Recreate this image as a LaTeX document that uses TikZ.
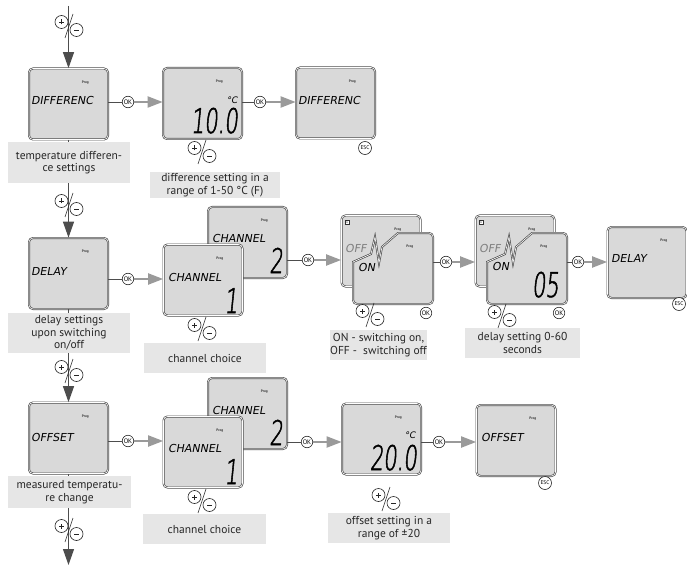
\documentclass[tikz,border=0pt]{standalone}
\usepackage{fontspec}
\usepackage{graphicx}
\setmainfont{PT Sans}
\newfontfamily\lcdfont[FakeSlant=0.18]{DejaVu Sans}
\newfontfamily\lcddigits[FakeSlant=0.1,FakeStretch=0.62,FakeBold=1.5]{DejaVuSans-ExtraLight.ttf}
\usetikzlibrary{arrows.meta}
\definecolor{lcdgray}{HTML}{D9D9D9}
\definecolor{lblgray}{HTML}{E6E6E6}
\definecolor{edge}{HTML}{4D4D4D}
\definecolor{okarrow}{HTML}{9A9A9A}

\begin{document}
\begin{tikzpicture}[
  lcd/.style={draw=edge, line width=0.7pt, double=white, double distance=0.6pt, fill=lcdgray, rounded corners=4pt, minimum width=79pt, minimum height=71pt, inner sep=0pt, label={[prog]north east:Prog}},
  lcdpath/.style={draw=edge, line width=0.7pt, double=white, double distance=0.6pt, fill=lcdgray},
  prog/.style={anchor=center, xshift=-23pt, yshift=-14pt, inner sep=0pt, font=\fontsize{3.5}{4}\selectfont\bfseries, text=black!80},
  word/.style={anchor=west, inner sep=0pt, font=\lcdfont\fontsize{11}{11}\selectfont},
  digits/.style={anchor=base east, inner sep=0pt, font=\lcddigits\fontsize{34}{34}\selectfont},
  unit/.style={inner sep=0pt, font=\lcdfont\fontsize{9}{9}\selectfont},
  mini/.style={draw=black!80, line width=0.4pt, fill=white, minimum size=4.5pt, inner sep=0pt, font=\fontsize{3.5}{3.5}\selectfont},
  okbtn/.style={circle, draw=black!85, fill=white, line width=0.6pt, minimum size=11.5pt, inner sep=0pt, font=\fontsize{6.5}{6.5}\selectfont},
  escbtn/.style={okbtn, minimum size=13pt, font=\fontsize{5.5}{5.5}\selectfont},
  lbl/.style={fill=lblgray, text=black!85, align=center, inner sep=0pt, font=\fontsize{11.5}{12.5}\selectfont},
  flow/.style={draw=edge, line width=1.2pt, -{Triangle[length=16pt,width=11pt]}},
  link/.style={draw=edge, line width=0.7pt},
  okarr/.style={draw=okarrow, line width=2pt, -{Triangle[length=15pt,width=11pt]}},
  pmring/.style={draw=black!85, fill=white, line width=0.6pt},
  pmline/.style={draw=black!85, line width=0.6pt},
  pm/.pic={
    \draw[pmline] (-4pt,-12pt) -- (4pt,12pt);
    \draw[pmring] (-7.5pt,4pt) circle[radius=6.5pt];
    \draw[pmring] (7.5pt,-4pt) circle[radius=6.5pt];
    \draw[pmline] (-10pt,4pt) -- (-5pt,4pt) (-7.5pt,1.5pt) -- (-7.5pt,6.5pt) (5pt,-4pt) -- (10pt,-4pt);
  }]
  \useasboundingbox (0pt,0pt) rectangle (687pt,-569pt);
  % row 1: difference
  \draw (68.5pt, -104.0pt)node[lcd](diff){};
  \draw (202.5pt, -103.5pt)node[lcd](diffval){};
  \draw (335.5pt, -103.0pt)node[lcd](diffend){};
  \draw (31.0pt, -100.0pt)node[word](w1){DIFFERENC};
  \draw (238.0pt, -133.0pt)node[digits](v1){10.0};
  \draw (232.0pt, -100.0pt)node[unit](u1){°C};
  \draw (298.0pt, -100.0pt)node[word](w2){DIFFERENC};
  % row 2: delay
  \draw (68.5pt, -273.5pt)node[lcd](delay){};
  \draw (31.0pt, -271.0pt)node[word](w3){DELAY};
  \draw (247.5pt, -242.5pt)node[lcd](chanB){};
  \draw (212.0pt, -238.0pt)node[word](w4){CHANNEL};
  \draw (283.0pt, -273.0pt)node[digits](v2){2};
  \draw (203.0pt, -280.0pt)node[lcd](chanA){};
  \draw (168.0pt, -277.0pt)node[word](w5){CHANNEL};
  \draw (238.0pt, -313.0pt)node[digits](v3){1};
  \draw (381.0pt, -251.0pt)node[lcd](offA){};
  \draw (347.0pt, -222.0pt)node[mini](one1){1};
  \draw (345.0pt, -248.0pt)node[word, text=black!50](off1){OFF};
  \draw[lcdpath] (353pt,-262pt) -- (371pt,-254pt) -- (375pt,-237pt) -- (379pt,-263pt) -- (382pt,-247pt) -- (398pt,-233pt) [rounded corners=4pt] -- (433pt,-233pt) -- (433pt,-304pt) -- (353pt,-304pt) [sharp corners] -- cycle;
  \draw (393.0pt, -268.5pt)node[lcd, draw=none, fill=none](onB){};
  \draw (358.0pt, -267.0pt)node[word](on1){ON};
  \draw (515.0pt, -251.0pt)node[lcd](dlA){};
  \draw (481.0pt, -222.0pt)node[mini](one2){1};
  \draw (479.0pt, -248.0pt)node[word, text=black!50](off2){OFF};
  \draw[lcdpath] (487pt,-262pt) -- (505pt,-254pt) -- (509pt,-237pt) -- (513pt,-263pt) -- (516pt,-247pt) -- (532pt,-233pt) [rounded corners=4pt] -- (567pt,-233pt) -- (567pt,-304pt) -- (487pt,-304pt) [sharp corners] -- cycle;
  \draw (527.0pt, -268.5pt)node[lcd, draw=none, fill=none](dlB){};
  \draw (492.0pt, -266.0pt)node[word](on2){ON};
  \draw (559.0pt, -297.0pt)node[digits](v4){05};
  \draw (647.0pt, -262.5pt)node[lcd](delayend){};
  \draw (611.0pt, -258.0pt)node[word](w6){DELAY};
  % row 3: offset
  \draw (68.5pt, -438.0pt)node[lcd](offset){};
  \draw (31.0pt, -437.0pt)node[word](w7){OFFSET};
  \draw (247.5pt, -413.5pt)node[lcd](chanB2){};
  \draw (212.0pt, -410.0pt)node[word](w8){CHANNEL};
  \draw (283.0pt, -445.0pt)node[digits](v5){2};
  \draw (203.0pt, -452.0pt)node[lcd](chanA2){};
  \draw (168.0pt, -448.0pt)node[word](w9){CHANNEL};
  \draw (238.0pt, -484.0pt)node[digits](v6){1};
  \draw (381.5pt, -439.0pt)node[lcd](offval){};
  \draw (417.0pt, -470.0pt)node[digits](v7){20.0};
  \draw (410.0pt, -435.0pt)node[unit](u2){°C};
  \draw (516.0pt, -440.5pt)node[lcd](offend){};
  \draw (481.0pt, -437.0pt)node[word](w10){OFFSET};
  % buttons
  \draw (128pt, -102pt)node[okbtn](ok1){OK};
  \draw (260pt, -102pt)node[okbtn](ok2){OK};
  \draw (128pt, -279pt)node[okbtn](ok3){OK};
  \draw (308pt, -260pt)node[okbtn](ok4){OK};
  \draw (446pt, -262pt)node[okbtn](ok5){OK};
  \draw (578pt, -262pt)node[okbtn](ok6){OK};
  \draw (128pt, -441pt)node[okbtn](ok7){OK};
  \draw (307pt, -442pt)node[okbtn](ok8){OK};
  \draw (439pt, -442pt)node[okbtn](ok9){OK};
  \draw (426pt, -313pt)node[okbtn](okon){OK};
  \draw (559pt, -313pt)node[okbtn](okdl){OK};
  \draw (365pt, -148pt)node[escbtn](esc1){ESC};
  \draw (679pt, -304pt)node[escbtn](esc2){ESC};
  \draw (545pt, -483pt)node[escbtn](esc3){ESC};
  % OK connectors
  \draw[link] (diff.east |- ok1) -- (ok1);
  \draw[okarr] (ok1) -- (ok1 -| diffval.west);
  \draw[link] (diffval.east |- ok2) -- (ok2);
  \draw[okarr] (ok2) -- (ok2 -| diffend.west);
  \draw[link] (delay.east |- ok3) -- (ok3);
  \draw[okarr] (ok3) -- (ok3 -| chanA.west);
  \draw[link] (chanB.east |- ok4) -- (ok4);
  \draw[okarr] (ok4) -- (ok4 -| offA.west);
  \draw[link] (onB.east |- ok5) -- (ok5);
  \draw[okarr] (ok5) -- (ok5 -| dlA.west);
  \draw[link] (dlB.east |- ok6) -- (ok6);
  \draw[okarr] (ok6) -- (ok6 -| delayend.west);
  \draw[link] (offset.east |- ok7) -- (ok7);
  \draw[okarr] (ok7) -- (ok7 -| chanA2.west);
  \draw[link] (chanB2.east |- ok8) -- (ok8);
  \draw[okarr] (ok8) -- (ok8 -| offval.west);
  \draw[link] (offval.east |- ok9) -- (ok9);
  \draw[okarr] (ok9) -- (ok9 -| offend.west);
  % main flow
  \coordinate (start) at (68.5pt, -6pt);
  \coordinate (finish) at (68.5pt, -565pt);
  \draw[flow] (start) -- (diff);
  \draw[flow] (diff) -- (delay);
  \draw[flow] (delay) -- (offset);
  \draw[flow] (offset) -- (finish);
  % labels
  \draw (69.0pt, -162.5pt)node[lbl, minimum width=122pt, minimum height=41pt](lab1){temperature differen-\\ce settings};
  \draw (215.0pt, -185.0pt)node[lbl, minimum width=130pt, minimum height=26pt](lab2){difference setting in a\\range of 1-50 °C (F)};
  \draw (69.0pt, -333.0pt)node[lbl, minimum width=122pt, minimum height=40pt](lab3){delay settings\\upon switching\\on/off};
  \draw (205.0pt, -358.0pt)node[lbl, minimum width=122pt, minimum height=30pt](lab4){channel choice};
  \draw (378.5pt, -345.0pt)node[lbl, minimum width=87pt, minimum height=30pt](lab5){ON - switching on,\\OFF - \ switching off};
  \draw (522.5pt, -343.0pt)node[lbl, minimum width=115pt, minimum height=30pt](lab6){delay setting 0-60\\seconds};
  \draw (69.5pt, -492.0pt)node[lbl, minimum width=123pt, minimum height=32pt](lab7){measured temperatu-\\re change};
  \draw (204.5pt, -529.0pt)node[lbl, minimum width=123pt, minimum height=30pt](lab8){channel choice};
  \draw (389.0pt, -528.0pt)node[lbl, minimum width=122pt, minimum height=30pt](lab9){offset setting in a\\range of ±20};
  % plus/minus keys
  \pic at (69pt, -26pt) {pm};
  \pic at (69pt, -205pt) {pm};
  \pic at (69pt, -371pt) {pm};
  \pic at (69pt, -530pt) {pm};
  \pic at (202pt, -152pt) {pm};
  \pic at (202pt, -329pt) {pm};
  \pic at (370pt, -315pt) {pm};
  \pic at (502pt, -316pt) {pm};
  \pic at (202pt, -501pt) {pm};
  \pic at (386pt, -499pt) {pm};
\end{tikzpicture}
\end{document}
